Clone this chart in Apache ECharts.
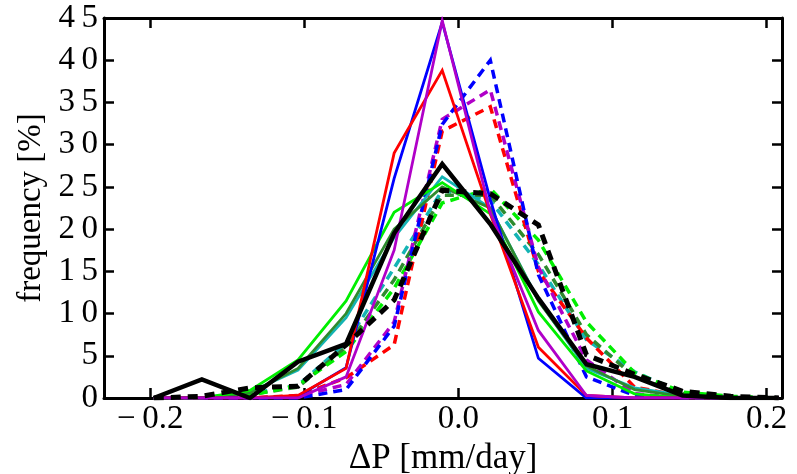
<!DOCTYPE html>
<html>
<head>
<meta charset="utf-8">
<script src="https://cdn.jsdelivr.net/npm/echarts@6/dist/echarts.min.js"></script>
<style>
html,body{margin:0;padding:0;background:#fff;}
#chart{width:797px;height:474px;}
</style>
</head>
<body>
<div id="chart"></div>
<script>
// bin centres (ΔP, mm/day)
var bins = [-0.1977,-0.1665,-0.1353,-0.1041,-0.0729,-0.0417,-0.0105,0.0207,0.0519,0.0831,0.1143,0.1455,0.1767,0.2079];
var xTicks = [-0.2,-0.1,0.0,0.1,0.2];
var yTicks = [0,5,10,15,20,25,30,35,40,45];

// solid lines
var solidRed     = [0,0,0,0.3,3.5,29.0,38.8,21.8,6.0,0.3,0,0,0,0];
var solidBlue    = [0,0,0,0.2,3.6,26.0,44.5,23.5,4.7,0,0,0,0,0];
var solidMagenta = [0,0,0,0,2.5,17.5,44.7,22.0,8.0,0.3,0,0,0,0];
var solidGreen   = [0,0,0.9,4.5,11.5,22.0,25.5,21.8,10.2,3.2,0.5,0,0,0];
var solidDkGreen = [0,0,0.6,3.5,10.0,20.0,25.0,22.5,11.5,3.8,1.0,0.2,0,0];
var solidTeal    = [0,0,0.7,3.3,9.5,19.0,26.2,22.5,11.6,3.5,1.2,0.3,0,0];
var solidBlack   = [0,2.2,0,4.3,6.4,19.5,27.7,20.6,11.8,4.0,2.5,0.3,0,0];

// dashed lines
var dashRed      = [0,0,0,0.3,2.4,6.3,31.6,34.5,15.0,7.1,1.3,0.2,0,0];
var dashBlue     = [0,0,0,0,1.0,8.5,32.4,40.0,14.6,2.5,0.3,0,0,0];
var dashMagenta  = [0,0,0,0.2,1.6,9.0,33.0,36.5,15.5,4.5,0.5,0,0,0];
var dashGreen    = [0,0,0.3,1.5,5.5,13.0,23.1,24.8,18.7,9.0,3.0,0.7,0.2,0];
var dashTeal     = [0,0,0.5,1.5,6.5,15.4,24.6,23.4,15.8,6.9,3.1,0.6,0.1,0];
var dashDkGreen  = [0,0,0.4,1.3,6.0,14.0,24.0,24.0,17.0,7.5,2.5,0.5,0,0];
var dashBlack    = [0,0.2,1.2,1.4,6.3,11.6,24.6,24.2,20.5,5.1,2.8,0.8,0.2,0];

function pts(vals){ return bins.map(function(x,i){ return [x, vals[i]]; }); }
function line(name, vals, color, width, dash, z){
  return {
    name: name, type: 'line', data: pts(vals), showSymbol: false, symbol: 'none',
    xAxisIndex: 0, yAxisIndex: 0, z: z, silent: true, animation: false,
    lineStyle: { color: color, width: width, type: dash || 'solid', cap: 'butt', join: 'miter' }
  };
}
var RED='#ff0000', BLUE='#0000ff', MAG='#b000c8', GRN='#00ee00', DKG='#2e8b2e', TEAL='#14b4b4', BLK='#000000';

var font = 'Liberation Serif';
function yFmt(v){ return String(v).split('').join('\u2009'); }
function xFmt(v){
  var s = Math.abs(v).toFixed(1);
  return (v < -1e-9 ? '\u2212\u2009' : '') + s;
}
var axisLineStyle = { color: '#000', width: 3 };
var CD = [9,6], BD = [10,7];

var option = {
  animation: false,
  backgroundColor: '#fff',
  grid: { left: 104, right: 15, top: 18, bottom: 76, containLabel: false, outerBoundsMode: 'none' },
  xAxis: [
    { type: 'value', min: -0.23, max: 0.21, position: 'bottom',
      axisLine: { show: true, onZero: false, lineStyle: axisLineStyle },
      axisTick: { show: true, inside: true, length: 10, lineStyle: { color: '#000', width: 2.5 }, customValues: xTicks },
      axisLabel: { show: true, margin: 5, fontFamily: font, fontSize: 33, color: '#000', customValues: xTicks, formatter: xFmt },
      splitLine: { show: false },
      name: 'ΔP [mm/day]', nameLocation: 'middle', nameGap: 42,
      nameTextStyle: { fontFamily: font, fontSize: 35, color: '#000' }
    },
    { type: 'value', min: -0.23, max: 0.21, position: 'top',
      axisLine: { show: true, onZero: false, lineStyle: axisLineStyle },
      axisTick: { show: true, inside: true, length: 10, lineStyle: { color: '#000', width: 2.5 }, customValues: xTicks },
      axisLabel: { show: false }, splitLine: { show: false }
    }
  ],
  yAxis: [
    { type: 'value', min: 0, max: 45, interval: 5, position: 'left',
      axisLine: { show: true, onZero: false, lineStyle: axisLineStyle },
      axisTick: { show: true, inside: true, length: 10, lineStyle: { color: '#000', width: 2.5 } },
      axisLabel: { show: true, margin: 6, fontFamily: font, fontSize: 33, color: '#000', formatter: yFmt },
      splitLine: { show: false },
      name: 'frequency [%]', nameLocation: 'middle', nameGap: 52,
      nameTextStyle: { fontFamily: font, fontSize: 33, color: '#000' }
    },
    { type: 'value', min: 0, max: 45, interval: 5, position: 'right',
      axisLine: { show: true, onZero: false, lineStyle: axisLineStyle },
      axisTick: { show: true, inside: true, length: 10, lineStyle: { color: '#000', width: 2.5 } },
      axisLabel: { show: false }, splitLine: { show: false }
    }
  ],
  series: [
    line('dash teal', dashTeal, TEAL, 3.5, CD, 2),
    line('dash dkgreen', dashDkGreen, DKG, 3.5, CD, 2),
    line('dash green', dashGreen, GRN, 3.5, CD, 2),
    line('dash red', dashRed, RED, 3.5, CD, 2),
    line('dash magenta', dashMagenta, MAG, 3.5, CD, 2),
    line('dash blue', dashBlue, BLUE, 3.5, CD, 2),
    line('solid teal', solidTeal, TEAL, 2.8, null, 3),
    line('solid dkgreen', solidDkGreen, DKG, 2.8, null, 3),
    line('solid green', solidGreen, GRN, 2.8, null, 3),
    line('solid blue', solidBlue, BLUE, 2.8, null, 3),
    line('solid red', solidRed, RED, 2.8, null, 3),
    line('solid magenta', solidMagenta, MAG, 2.8, null, 3),
    line('dash black', dashBlack, BLK, 5, BD, 4),
    line('solid black', solidBlack, BLK, 4.5, null, 5)
  ]
};
var chart = echarts.init(document.getElementById('chart'), null, { renderer: 'canvas' });
chart.setOption(option);
</script>
</body>
</html>
